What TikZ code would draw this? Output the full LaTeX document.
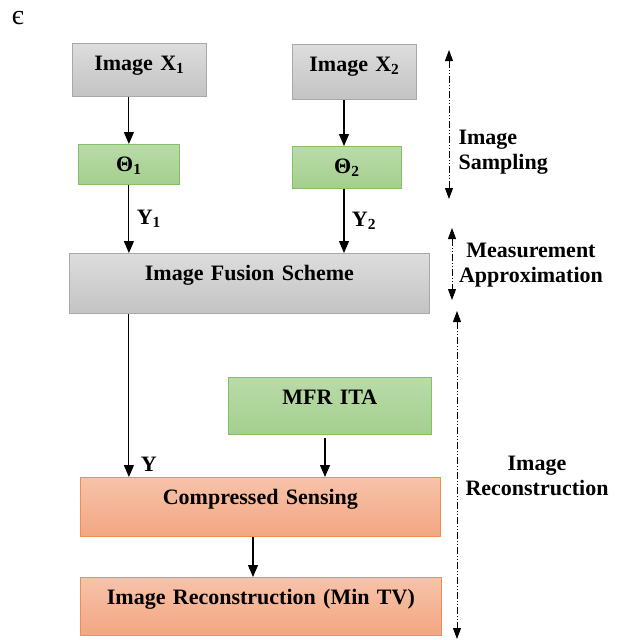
\documentclass[tikz,border=0pt]{standalone}
\usepackage{fontspec}
\setmainfont{Liberation Serif}
\usetikzlibrary{arrows.meta}

\definecolor{graytop}{HTML}{DDDDDD}
\definecolor{graybot}{HTML}{C3C3C3}
\definecolor{grayline}{HTML}{A8A8A8}
\definecolor{greentop}{HTML}{B9DBA9}
\definecolor{greenbot}{HTML}{A4CF8E}
\definecolor{greenline}{HTML}{84C065}
\definecolor{orangetop}{HTML}{F7C3AA}
\definecolor{orangebot}{HTML}{F3A682}
\definecolor{orangeline}{HTML}{EE8D52}

\tikzset{
  box/.style={anchor=north west, inner sep=0pt, align=center, line width=0.8pt,
    font=\fontsize{22}{26}\selectfont\bfseries, text height=27pt},
  graybox/.style={box, draw=grayline, top color=graytop, bottom color=graybot},
  greenbox/.style={box, draw=greenline, top color=greentop, bottom color=greenbot},
  orangebox/.style={box, draw=orangeline, top color=orangetop, bottom color=orangebot},
  flow/.style={-{Triangle[width=10pt,length=12pt]}, line width=1.1pt},
  span/.style={{Triangle[width=8pt,length=11pt]}-{Triangle[width=8pt,length=11pt]}, line width=0.8pt,
    dash pattern=on 7pt off 2pt on 1pt off 2pt on 1pt off 2pt},
  lbl/.style={font=\fontsize{22}{25}\selectfont\bfseries},
  side/.style={lbl, align=center}
}

\begin{document}
\begin{tikzpicture}[x=1pt,y=-1pt]
  \useasboundingbox (0,0) rectangle (618,640);
  \node [font=\fontsize{28}{30}\selectfont] (eps) at (18,18) {є};
  % sampling
  \node [graybox, text width=134pt, text depth=26pt] (x1) at (72,43) {Image X\textsubscript{1}};
  \node [graybox, text width=124pt, text depth=28pt] (x2) at (292,44) {Image X\textsubscript{2}};
  \node [greenbox, text width=101pt, text depth=13pt] (t1) at (78,144) {Θ\textsubscript{1}};
  \node [greenbox, text width=109pt, text depth=15pt] (t2) at (292,146) {Θ\textsubscript{2}};
  % fusion and reconstruction
  \node [graybox, text width=360pt, text depth=33pt] (fus) at (69,253) {Image Fusion Scheme};
  \node [greenbox, text width=203pt, text depth=30pt] (mfr) at (228,377) {MFR ITA};
  \node [orangebox, text width=360pt, text depth=32pt] (cs) at (80,477) {Compressed Sensing};
  \node [orangebox, text width=361pt, text depth=31pt] (ir) at (80,577) {Image Reconstruction (Min TV)};
  \draw [flow] (t1.north |- x1.south) to (t1.north);
  \draw [flow] (x2.south -| 344,0) to (t2.north -| 344,0);
  \draw [flow] (t1.south) to node [lbl, right=4pt] {Y\textsubscript{1}} (t1.south |- fus.north);
  \draw [flow] (t2.south -| 344,0) to node [lbl, right=4pt] {Y\textsubscript{2}} (fus.north -| 344,0);
  \draw [flow] (t1.south |- fus.south) to node [lbl, pos=0.92, right=8pt] {Y} (t1.south |- cs.north);
  \draw [flow] ([yshift=-3pt]mfr.south -| 325,0) to (cs.north -| 325,0);
  \draw [flow] (cs.south -| 253,0) to (ir.north -| 253,0);
  % stages
  \coordinate (s1) at (449,50);
  \coordinate (s2) at (449,199);
  \coordinate (m1) at (452,228);
  \coordinate (m2) at (452,300);
  \coordinate (r1) at (457,311);
  \coordinate (r2) at (457,639);
  \draw [span] (s1) to (s2);
  \draw [span] (m1) to (m2);
  \draw [span] (r1) to (r2);
  \node [lbl, align=left, anchor=west] (samp) at (455,152) {Image\\Sampling};
  \node [side] (meas) at (531,265) {Measurement\\Approximation};
  \node [side] (rec) at (537,476) {Image\\Reconstruction};
\end{tikzpicture}
\end{document}
